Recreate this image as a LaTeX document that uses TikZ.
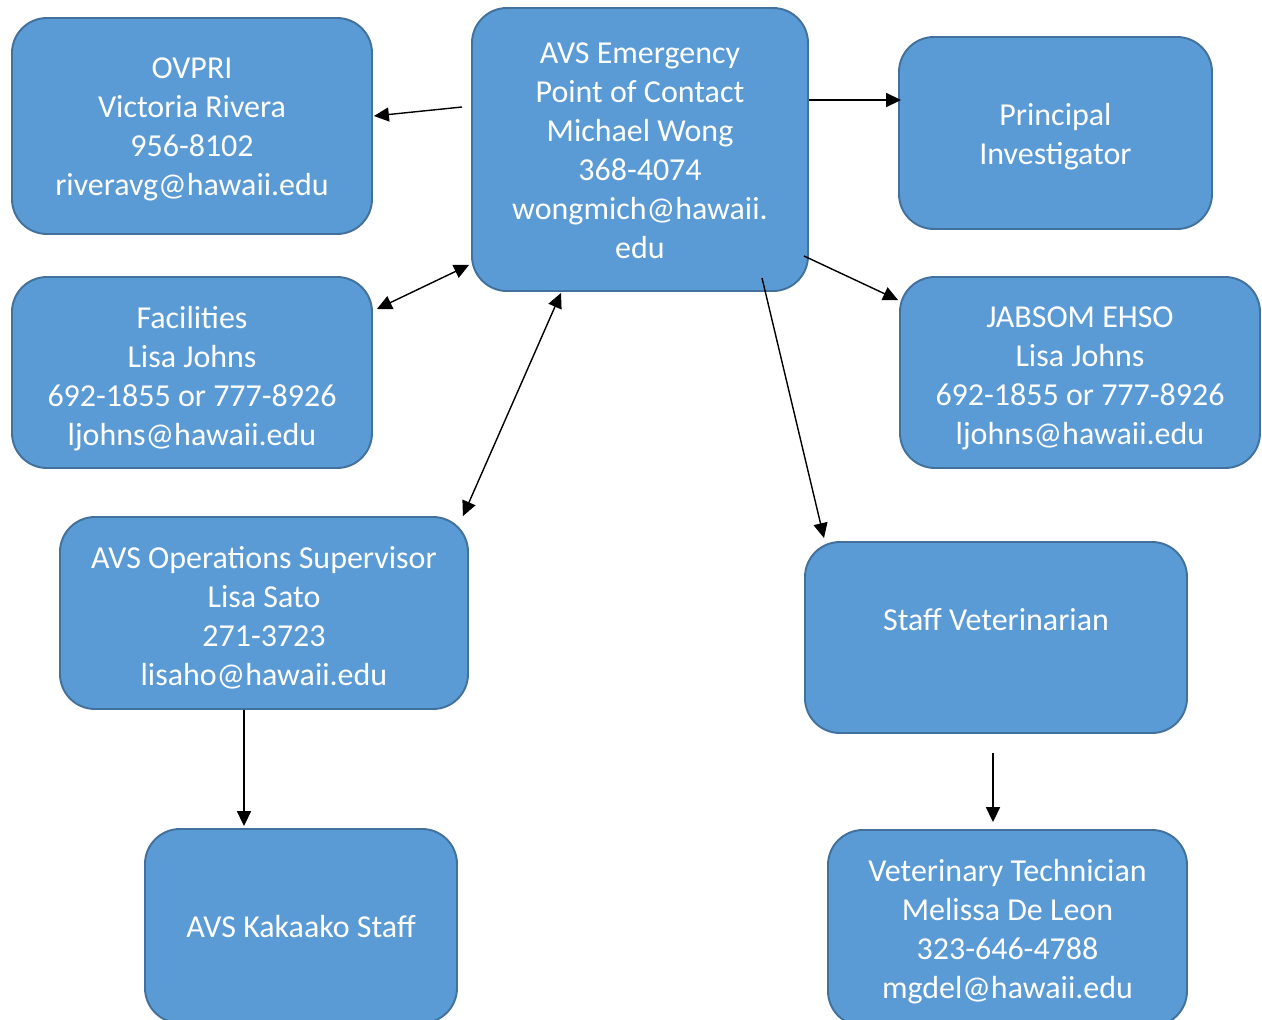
\documentclass[tikz,border=0pt]{standalone}
\usepackage{fontspec}
\setmainfont{Carlito}
\usetikzlibrary{arrows.meta,calc}
\definecolor{boxfill}{HTML}{5B9BD5}
\definecolor{boxline}{HTML}{41719C}
\begin{document}
\begin{tikzpicture}[x=0.02cm,y=-0.02cm,
  box/.style={draw=boxline,line width=1.1pt,fill=boxfill,rounded corners=0.7cm,inner sep=0pt},
  label text/.style={text=white,align=center,inner sep=0pt,
    font=\fontsize{18.2}{22.2}\selectfont},
  conn/.style={line width=0.8pt,-{Triangle[length=8.5pt,width=8pt]}},
  conn2/.style={line width=0.8pt,{Triangle[length=8.5pt,width=8pt]}-{Triangle[length=8.5pt,width=8pt]}}]
\useasboundingbox (0,0) rectangle (1262,1019);
\clip (0,0) rectangle (1262,1019);
\fill[white] (0,0) rectangle (1262,1019);
% boxes
\node[box,minimum width=0.02cm*360,minimum height=0.02cm*216] (ovpri) at (192,126) {};
\node[box,minimum width=0.02cm*336,minimum height=0.02cm*283] (emerg) at (640,149.5) {};
\node[box,minimum width=0.02cm*313,minimum height=0.02cm*192] (pi) at (1055.5,133) {};
\node[box,minimum width=0.02cm*360,minimum height=0.02cm*191] (fac) at (192,372.5) {};
\node[box,minimum width=0.02cm*360,minimum height=0.02cm*191] (jab) at (1080,372.5) {};
\node[box,minimum width=0.02cm*408,minimum height=0.02cm*192] (ops) at (264,613) {};
\node[box,minimum width=0.02cm*382,minimum height=0.02cm*191] (vet) at (996,637.5) {};
\node[box,minimum width=0.02cm*312,minimum height=0.02cm*194] (kak) at (301,926) {};
\node[box,minimum width=0.02cm*359,minimum height=0.02cm*196] (tech) at (1007.5,928) {};
% texts
\node[label text] (ovprit) at ($(ovpri.center)+(0,3)$)
  {OVPRI\\Victoria Rivera\\956-8102\\riveravg@hawaii.edu};
\node[label text] (emergt) at ($(emerg.center)+(0,1)$)
  {AVS Emergency\\Point of Contact\\Michael Wong\\368-4074\\wongmich@hawaii.\\edu};
\node[label text] (pit) at ($(pi.center)+(0,4)$) {Principal\\Investigator};
\node[label text] (fact) at ($(fac.center)+(0,6)$)
  {Facilities\\Lisa Johns\\692-1855 or 777-8926\\ljohns@hawaii.edu};
\node[label text] (jabt) at ($(jab.center)+(0,6)$)
  {JABSOM EHSO\\Lisa Johns\\692-1855 or 777-8926\\ljohns@hawaii.edu};
\node[label text] (opst) at ($(ops.center)+(0,5)$)
  {AVS Operations Supervisor\\Lisa Sato\\271-3723\\lisaho@hawaii.edu};
\node[label text] (vett) at ($(vet.center)+(0,-17.5)$) {Staff Veterinarian};
\node[label text] (kakt) at ($(kak.center)+(0,0)$) {AVS Kakaako Staff};
\node[label text] (techt) at ($(tech.center)+(0,4)$)
  {Veterinary Technician\\Melissa De Leon\\323-646-4788\\mgdel@hawaii.edu};
% free ends
\coordinate (e1) at (462,107);
\coordinate (v1) at ($(vet.south)+(-3,19)$);
% connectors
\draw[conn] (e1) -- ($(ovpri.east)+(1,-10)$);
\draw[conn] ($(emerg.east)+(0,-49.5)$) -- ($(pi.west)+(3,-33)$);
\draw[conn2] ($(fac.east)+(4,-63.5)$) -- ($(emerg.south west)+(-2,-27)$);
\draw[conn2] ($(emerg.south)+(-79,1)$) -- ($(ops.north east)+(-6,0)$);
\draw[conn] ($(emerg.south east)+(-5,-36)$) -- ($(jab.north west)+(-1,24)$);
\draw[conn] ($(emerg.south)+(122,-14)$) -- ($(vet.north)+(-172,-3)$);
\draw[conn] ($(ops.south)+(-20,0)$) -- ($(kak.north)+(-57,-2)$);
\draw[conn] (v1) -- ($(tech.north)+(-14.5,-7)$);
\end{tikzpicture}
\end{document}
